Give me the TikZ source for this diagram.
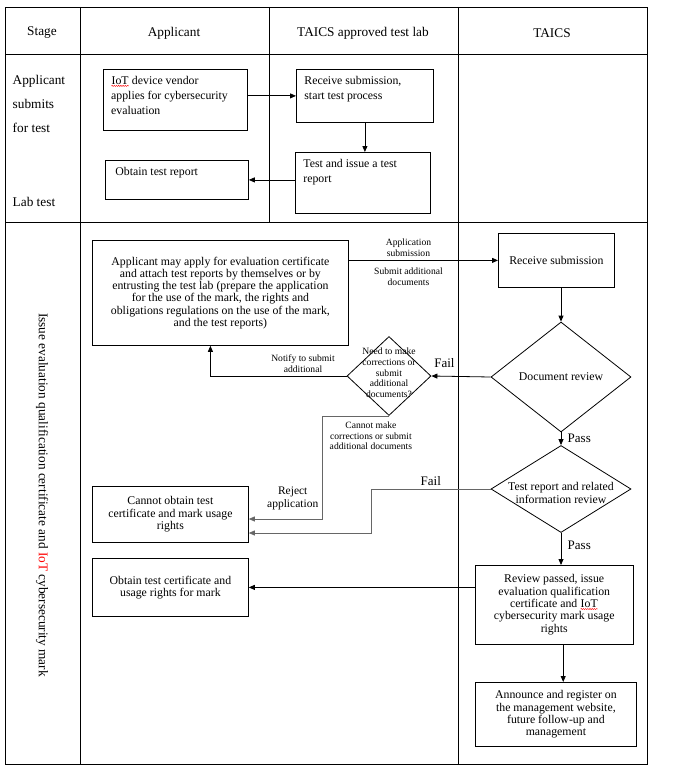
\documentclass[tikz,border=0pt]{standalone}
\usepackage{fontspec}
\setmainfont{Liberation Serif}
\usetikzlibrary{arrows.meta,positioning,shapes.geometric,decorations.pathmorphing}
\tikzset{>={Triangle[length=6pt,width=5pt]}}
% red spelling squiggle under IoT
\newcommand{\wavyiot}{\tikz[baseline=(iot.base)]{\node[shape=rectangle, draw=none, inner sep=0pt,
    minimum width=0pt, minimum height=0pt, anchor=center, align=left] (iot) {IoT};
  \draw[red, line width=0.4pt, decorate, decoration={snake, amplitude=0.6pt, segment length=2.2pt}]
  ([yshift=-1.2pt]iot.south west) -- ([yshift=-1.2pt]iot.south east);}}

\begin{document}
\begin{tikzpicture}[x=1pt, y=-1pt, line width=0.8pt,
    font=\fontsize{11.8}{12.3}\selectfont,
    cell/.style={font=\fontsize{13.3}{16}\selectfont},
    box/.style={draw, rectangle, inner sep=0pt, anchor=north west, align=center},
    boxtext/.style={anchor=north west, align=left, inner xsep=8pt, inner ysep=7pt,
      font=\fontsize{11.8}{15}\selectfont},
    test/.style={draw, diamond, inner sep=0pt},
    note/.style={font=\fontsize{9.6}{10.8}\selectfont, align=center},
    flag/.style={font=\fontsize{13}{15}\selectfont},
    grayline/.style={draw=black!60}]
  \useasboundingbox (0,0) rectangle (694,781);

  % table
  \draw[line width=0.9pt] (5,7) rectangle (647,764);
  \draw[line width=0.9pt] (5,54) -- (647,54) (5,222) -- (647,222);
  \draw[line width=0.9pt] (80,7) -- (80,764) (458,7) -- (458,764) (269,7) -- (269,222);

  \node[cell] (hstage) at (42,33) {Stage};
  \node[cell] (happlicant) at (174,33) {Applicant};
  \node[cell] (hlab) at (363,33) {TAICS approved test lab};
  \node[cell] (htaics) at (552,33) {TAICS};

  \node[cell, anchor=north west, align=left, font=\fontsize{13.3}{24}\selectfont] (stagesubmit) at (9,72) {Applicant\\submits\\for test};
  \node[cell, anchor=west] (stagelab) at (9,202) {Lab test};
  \node[cell, rotate=-90] (stageissue) at (42,495) {Issue evaluation qualification certificate and \textcolor{red}{IoT} cybersecurity mark};

  % applicant submits / lab test
  \node[box, minimum width=144pt, minimum height=61pt,
    label={[boxtext]north west:{\wavyiot{} device vendor\\applies for cybersecurity\\evaluation}}] (vendor) at (103,69) {};
  \node[box, minimum width=137pt, minimum height=53pt,
    label={[boxtext]north west:{Receive submission,\\start test process}}] (receive) at (296,69) {};
  \node[box, minimum width=135pt, minimum height=61pt,
    label={[boxtext]north west:{Test and issue a test\\report}}] (testissue) at (295,152) {};
  \node[box, minimum width=143pt, minimum height=39pt,
    label={[boxtext, inner xsep=10pt]north west:{Obtain test report}}] (obtainrep) at (105,160) {};

  \draw[->] (vendor.east |- receive.west) -- (receive.west);
  \draw[->] (receive.south) -- (receive.south |- testissue.north);
  \draw[->] (testissue.west |- obtainrep.east) -- (obtainrep.east);

  % evaluation certificate and mark
  \node[box, minimum width=256pt, minimum height=105pt] (apply) at (92,240) {Applicant may apply for evaluation certificate\\and attach test reports by themselves or by\\entrusting the test lab (prepare the application\\for the use of the mark, the rights and\\obligations regulations on the use of the mark,\\and the test reports)};
  \node[box, minimum width=116pt, minimum height=54pt] (recv) at (498,233) {Receive submission};
  \node[test, minimum width=140pt, minimum height=110pt, label={center:Document review}] (docrev) at (561,377) {};
  \node[test, minimum width=84pt, minimum height=79pt,
    label={[note, yshift=3pt, font=\fontsize{9.6}{10.7}\selectfont]center:{Need to make\\corrections or\\submit\\additional\\documents?}}] (need) at (389,376) {};
  \node[test, minimum width=140pt, minimum height=87pt,
    label={[align=center, yshift=-4pt]center:{Test report and related\\information review}}] (trrev) at (561,489) {};
  \node[box, minimum width=156pt, minimum height=56pt] (cannot) at (92,486) {Cannot obtain test\\certificate and mark usage\\rights};
  \node[box, minimum width=156pt, minimum height=58pt] (obtaincert) at (92,558) {Obtain test certificate and\\usage rights for mark};
  \node[box, minimum width=158pt, minimum height=79pt] (passed) at (475,565) {Review passed, issue\\evaluation qualification\\certificate and \wavyiot\\cybersecurity mark usage\\rights};
  \node[box, minimum width=161pt, minimum height=64pt] (announce) at (475,682) {Announce and register on\\the management website,\\future follow-up and\\management};
  \coordinate (rejturn) at (322,519);
  \coordinate (failturn) at (371,533);

  \draw[->] (apply.east |- recv.west) -- node[note, above, pos=0.4] {Application\\submission}
    node[note, below, pos=0.4, yshift=-4pt] {Submit additional\\documents} (recv.west);
  \draw[->] (docrev.north |- recv.south) -- (docrev.north);
  \draw[->] (docrev.west) -- node[flag, above, pos=0.78, yshift=5pt] {Fail} (need.east);
  \draw[->] (need.west) -| node[note, above, pos=0.16] {Notify to submit\\additional} ([xshift=-10pt]apply.south);
  \draw[->, grayline] (need.south) -| node[note, pos=0.5, anchor=north west, xshift=4pt, yshift=-2pt] {Cannot make\\corrections or submit\\additional documents} (rejturn)
    -- node[at start, anchor=south east, align=center, font=\fontsize{11.5}{13.7}\selectfont, yshift=5pt] {Reject\\application} (rejturn -| cannot.east);
  \draw[->, grayline] (trrev.west) -| node[flag, above, pos=0.25] {Fail} (failturn) -- (failturn -| cannot.east);
  \draw[->] (docrev.south) -- node[flag, right, xshift=3pt] {Pass} (trrev.north);
  \draw[->] (trrev.south) -- node[flag, right, pos=0.4, xshift=3pt] {Pass} (trrev.south |- passed.north);
  \draw[->] (passed.west |- obtaincert.east) -- (obtaincert.east);
  \draw[->] ([xshift=9pt]passed.south) -- ([xshift=9pt]passed.south |- announce.north);
\end{tikzpicture}
\end{document}
